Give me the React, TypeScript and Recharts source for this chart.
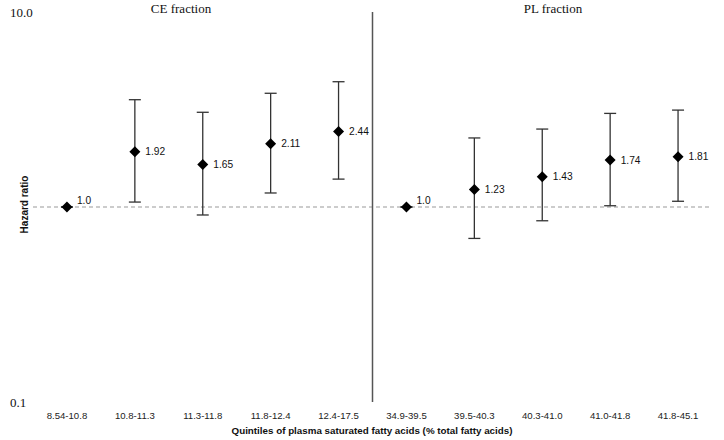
import { ScatterChart, Scatter, XAxis, YAxis, ErrorBar, ReferenceLine } from 'recharts';

const ranges = [
  "8.54-10.8", "10.8-11.3", "11.3-11.8", "11.8-12.4", "12.4-17.5",
  "34.9-39.5", "39.5-40.3", "40.3-41.0", "41.0-41.8", "41.8-45.1",
];
const hr = [1.0, 1.92, 1.65, 2.11, 2.44, 1.0, 1.23, 1.43, 1.74, 1.81];
const lower = [1.0, 1.06, 0.91, 1.18, 1.39, 1.0, 0.69, 0.85, 1.015, 1.07];
const upper = [1.0, 3.55, 3.06, 3.83, 4.39, 1.0, 2.26, 2.51, 3.02, 3.14];
const hrLabels = ["1.0", "1.92", "1.65", "2.11", "2.44", "1.0", "1.23", "1.43", "1.74", "1.81"];
const isRef = [true, false, false, false, false, true, false, false, false, false];

const data = hr.map((v, i) => ({
  x: i,
  y: v,
  err: [v - lower[i], upper[i] - v],
  label: hrLabels[i],
  ref: isRef[i],
}));

const sans = "'Liberation Sans', Arial, sans-serif";
const serif = "'Liberation Serif', 'Times New Roman', serif";

const Diamond = (props: any) => {
  const { cx, cy, payload } = props;
  const s = 5.5;
  return (
    <g>
      <polygon
        points={`${cx},${cy - s} ${cx + s},${cy} ${cx},${cy + s} ${cx - s},${cy}`}
        fill="#000"
      />
      <text
        x={cx + (payload.ref ? 10 : 10.5)}
        y={payload.ref ? cy - 3 : cy + 3.7}
        fontSize={10.2}
        fontFamily={sans}
        fill="#111"
      >
        {payload.label}
      </text>
    </g>
  );
};

const XTick = (props: any) => {
  const { x, y, payload } = props;
  return (
    <text x={x} y={y + 17} textAnchor="middle" fontSize={9.6} fontFamily={sans} fill="#222">
      {ranges[payload.value]}
    </text>
  );
};

const YTick = (props: any) => {
  const { y, payload } = props;
  return (
    <text x={10} y={y + 5} textAnchor="start" fontSize={13} fontFamily={serif} fill="#111">
      {payload.value === 10 ? "10.0" : "0.1"}
    </text>
  );
};

export default function App() {
  return (
    <div style={{ position: 'absolute', left: 0, top: 0, width: 724, height: 440, background: '#fff' }}>
      <ScatterChart width={724} height={440} margin={{ top: 12, right: 12, bottom: 0, left: 0 }}>
        <XAxis
          dataKey="x"
          type="number"
          domain={[-0.5, 9.5]}
          ticks={[0, 1, 2, 3, 4, 5, 6, 7, 8, 9]}
          interval={0}
          height={38}
          axisLine={false}
          tickLine={false}
          tickSize={0}
          tickMargin={0}
          tick={<XTick />}
        />
        <YAxis
          dataKey="y"
          type="number"
          scale="log"
          domain={[0.1, 10]}
          ticks={[0.1, 10]}
          allowDataOverflow
          width={33}
          axisLine={false}
          tickLine={false}
          tick={<YTick />}
        />
        <ReferenceLine y={1} stroke="#999" strokeDasharray="4 3" />
        <ReferenceLine x={4.5} stroke="#555" strokeWidth={1.5} segment={[{ x: 4.5, y: 10 }, { x: 4.5, y: 0.105 }]} />
        <Scatter data={data} shape={<Diamond />} isAnimationActive={false}>
          <ErrorBar dataKey="err" direction="y" width={6} stroke="#333" strokeWidth={1.3} />
        </Scatter>
      </ScatterChart>
      <div style={{ position: 'absolute', left: 121, width: 120, top: 1, textAlign: 'center', fontFamily: serif, fontSize: 13, color: '#111' }}>
        CE fraction
      </div>
      <div style={{ position: 'absolute', left: 493, width: 120, top: 1, textAlign: 'center', fontFamily: serif, fontSize: 13, color: '#111' }}>
        PL fraction
      </div>
      <div
        style={{
          position: 'absolute', left: -26, top: 199, width: 100, textAlign: 'center',
          transform: 'rotate(-90deg)', fontFamily: sans, fontSize: 10, fontWeight: 'bold', color: '#111',
        }}
      >
        Hazard ratio
      </div>
      <div style={{ position: 'absolute', left: 172, width: 400, top: 425, textAlign: 'center', fontFamily: sans, fontSize: 9.8, fontWeight: 'bold', color: '#111' }}>
        Quintiles of plasma saturated fatty acids (% total fatty acids)
      </div>
    </div>
  );
}
